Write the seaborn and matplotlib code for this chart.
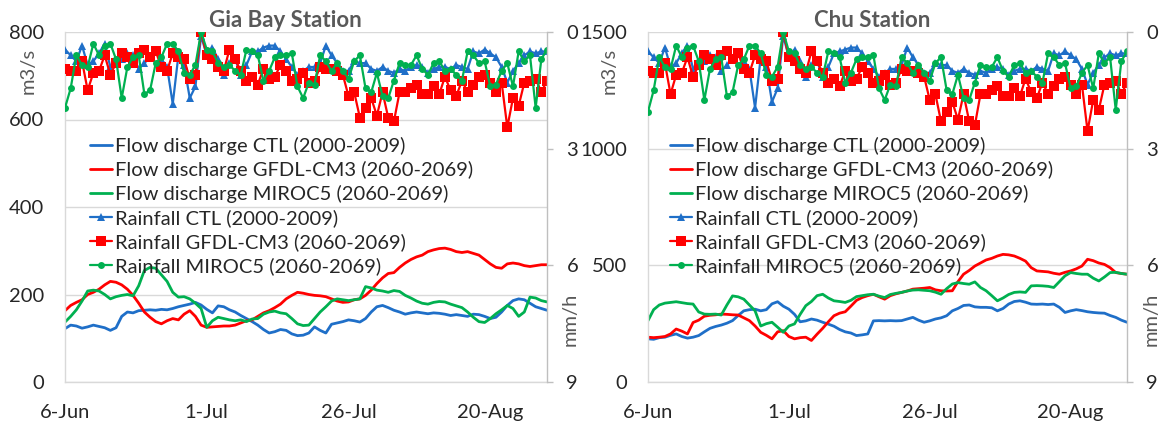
import numpy as np
import pandas as pd
import matplotlib
matplotlib.use("Agg")
import matplotlib.pyplot as plt
import seaborn as sns

# ---------------------------------------------------------------- data
start_date = "2000-06-06"
n_days = 86
tick_days = [0, 25, 50, 75]
tick_labels = ["6-Jun", "1-Jul", "26-Jul", "20-Aug"]

series_labels = [
    "Flow discharge CTL (2000-2009)",
    "Flow discharge GFDL-CM3 (2060-2069)",
    "Flow discharge MIROC5 (2060-2069)",
    "Rainfall CTL (2000-2009)",
    "Rainfall GFDL-CM3 (2060-2069)",
    "Rainfall MIROC5 (2060-2069)",
]

# Gia Bay station: discharge (m3/s)
gb_flow_ctl = [122, 130, 128, 123, 126, 130, 127, 124, 118, 124,
               150, 160, 158, 163, 164, 165, 164, 166, 165, 168,
               172, 175, 178, 182, 176, 166, 158, 174, 172, 165,
               160, 152, 145, 138, 130, 120, 112, 115, 120, 118,
               110, 106, 107, 112, 126, 118, 112, 132, 135, 138,
               142, 140, 137, 145, 160, 172, 175, 170, 164, 160,
               155, 158, 160, 158, 156, 158, 157, 155, 152, 154,
               152, 150, 155, 154, 150, 145, 148, 160, 175, 186,
               190, 188, 180, 172, 168, 164]
gb_flow_gfdl = [163, 175, 182, 188, 200, 205, 212, 222, 230, 228,
                222, 212, 198, 180, 160, 148, 138, 133, 140, 145,
                142, 155, 163, 150, 130, 125, 126, 127, 128, 128,
                130, 135, 140, 142, 150, 158, 163, 170, 178, 190,
                198, 205, 203, 200, 198, 197, 195, 190, 185, 182,
                183, 188, 190, 198, 210, 225, 238, 248, 250, 262,
                272, 280, 286, 290, 298, 302, 305, 306, 303, 298,
                296, 298, 294, 290, 280, 270, 262, 260, 270, 272,
                270, 266, 264, 266, 268, 268]
gb_flow_miroc = [137, 150, 165, 185, 208, 210, 208, 200, 190, 195,
                 198, 200, 197, 220, 255, 262, 260, 245, 230, 205,
                 194, 195, 190, 180, 168, 125, 140, 148, 145, 142,
                 140, 142, 138, 144, 145, 155, 160, 162, 158, 156,
                 145, 133, 129, 130, 145, 160, 172, 185, 190, 188,
                 186, 188, 190, 218, 215, 210, 208, 205, 209, 207,
                 198, 192, 185, 180, 178, 182, 184, 183, 178, 174,
                 170, 160, 148, 138, 136, 145, 156, 165, 175, 168,
                 150, 160, 194, 192, 186, 183]

# Gia Bay station: rainfall (mm/h)
gb_rain_ctl = [0.45, 0.6, 0.75, 0.35, 0.85, 0.75, 0.55, 0.3, 0.9, 0.8,
               0.7, 0.55, 0.6, 0.95, 0.8, 0.65, 0.5, 0.7, 0.9, 1.85,
               0.6, 0.85, 1.7, 1.4, 0.1, 0.6, 0.4, 0.7, 1.1, 0.8,
               0.7, 1.1, 0.85, 0.5, 0.5, 0.4, 0.35, 0.35, 0.5, 0.7,
               0.9, 1.1, 1.0, 0.9, 0.9, 0.8, 0.35, 0.6, 0.8, 1.0,
               1.0, 0.75, 0.8, 0.8, 0.95, 1.0, 0.9, 1.0, 1.05, 0.95,
               1.0, 0.9, 0.85, 0.9, 1.05, 0.95, 0.9, 0.9, 0.95, 0.85,
               0.9, 0.95, 0.5, 0.55, 0.45, 0.55, 0.65, 0.9, 1.3, 1.0,
               0.8, 0.6, 0.5, 0.55, 0.5, 0.5]
gb_rain_gfdl = [0.95, 1.0, 1.0, 0.75, 1.5, 1.05, 1.0, 0.6, 1.1, 0.8,
                0.55, 0.65, 0.8, 0.55, 0.45, 0.65, 0.5, 0.9, 1.0, 0.55,
                0.65, 0.7, 1.2, 1.1, 0.0, 0.6, 0.7, 0.9, 1.0, 0.45,
                0.7, 1.0, 1.25, 1.15, 1.35, 0.95, 1.2, 1.15, 0.85, 1.0,
                1.25, 1.2, 1.05, 1.3, 1.25, 0.9, 0.95, 0.95, 1.0, 1.1,
                1.65, 1.55, 2.2, 1.95, 1.7, 2.15, 1.55, 2.2, 2.3, 1.55,
                1.55, 1.45, 1.35, 1.6, 1.6, 1.4, 1.6, 1.15, 1.5, 1.65,
                1.25, 1.55, 1.35, 1.15, 1.1, 1.3, 1.55, 1.3, 2.45, 1.7,
                1.9, 1.3, 1.25, 1.2, 1.55, 1.25]
gb_rain_miroc = [1.95, 1.45, 0.6, 0.85, 0.9, 0.3, 0.6, 0.35, 0.3, 0.7,
                 1.7, 0.9, 0.65, 0.6, 1.6, 1.5, 0.8, 0.65, 0.3, 0.3,
                 0.5, 1.05, 1.1, 0.85, 0.0, 0.45, 0.5, 0.8, 0.9, 0.85,
                 1.0, 1.1, 0.45, 0.5, 0.6, 1.25, 1.0, 0.65, 0.6, 0.6,
                 0.55, 1.4, 1.7, 1.3, 1.35, 0.6, 0.75, 1.0, 0.8, 1.0,
                 1.2, 0.75, 0.6, 1.45, 1.55, 1.05, 1.65, 1.7, 1.25, 0.8,
                 0.85, 0.85, 0.6, 0.95, 1.1, 0.8, 0.75, 1.0, 0.95, 1.1,
                 1.25, 0.5, 0.6, 0.8, 0.75, 1.4, 1.35, 1.0, 0.8, 1.4,
                 0.5, 0.75, 0.6, 1.95, 0.7, 0.45]

# Chu station: discharge (m3/s)
chu_flow_ctl = [185, 183, 190, 192, 200, 206, 195, 188, 192, 199,
                215, 230, 238, 244, 252, 263, 285, 305, 310, 312,
                305, 310, 335, 344, 325, 312, 290, 258, 262, 270,
                265, 256, 248, 239, 225, 215, 210, 199, 202, 206,
                262, 263, 262, 263, 262, 263, 270, 277, 265, 256,
                262, 270, 275, 284, 305, 315, 328, 330, 322, 320,
                320, 318, 305, 315, 334, 345, 348, 342, 334, 333,
                334, 332, 334, 320, 298, 305, 310, 306, 301, 298,
                296, 295, 285, 277, 265, 256]
chu_flow_gfdl = [192, 190, 192, 195, 206, 227, 218, 206, 255, 265,
                 282, 286, 288, 291, 290, 288, 287, 275, 263, 240,
                 213, 200, 185, 215, 220, 195, 185, 190, 192, 178,
                 205, 230, 258, 284, 295, 301, 325, 350, 362, 370,
                 376, 365, 355, 370, 378, 384, 390, 398, 400, 402,
                 405, 395, 391, 390, 391, 430, 462, 478, 497, 510,
                 523, 530, 540, 547, 545, 540, 530, 518, 490, 476,
                 474, 472, 466, 462, 470, 476, 485, 497, 526, 520,
                 510, 504, 490, 469, 465, 462]
chu_flow_miroc = [263, 310, 330, 338, 341, 344, 340, 336, 334, 300,
                  291, 290, 291, 287, 330, 369, 365, 355, 330, 305,
                  240, 250, 256, 235, 213, 240, 249, 290, 327, 345,
                  370, 376, 360, 348, 345, 341, 350, 366, 370, 374,
                  376, 368, 362, 375, 380, 384, 390, 394, 395, 393,
                  391, 385, 376, 400, 420, 426, 422, 419, 429, 405,
                  391, 370, 348, 360, 375, 384, 386, 384, 412, 413,
                  412, 410, 405, 430, 455, 469, 465, 462, 462, 445,
                  433, 450, 469, 470, 465, 462]

# Chu station: rainfall (mm/h)
chu_rain_ctl = [0.5, 0.65, 0.8, 0.4, 0.9, 0.8, 0.55, 0.35, 0.95, 0.85,
                0.75, 0.6, 0.65, 1.0, 0.85, 0.7, 0.55, 0.75, 0.95, 1.95,
                0.65, 0.9, 1.8, 1.45, 0.1, 0.65, 0.45, 0.75, 1.15, 0.85,
                0.75, 1.15, 0.9, 0.55, 0.5, 0.45, 0.4, 0.4, 0.55, 0.75,
                0.95, 1.15, 1.05, 0.95, 0.95, 0.85, 0.4, 0.65, 0.85, 1.05,
                1.05, 0.8, 0.85, 0.85, 1.0, 1.05, 0.95, 1.05, 1.1, 1.0,
                1.05, 0.95, 0.9, 0.95, 1.1, 1.0, 0.95, 0.95, 1.0, 0.9,
                0.95, 1.0, 0.55, 0.6, 0.5, 0.6, 0.7, 0.95, 1.35, 1.05,
                0.85, 0.65, 0.55, 0.6, 0.55, 0.55]
chu_rain_gfdl = [1.0, 1.05, 1.05, 0.8, 1.6, 1.1, 1.05, 0.65, 1.15, 0.85,
                 0.6, 0.7, 0.85, 0.6, 0.5, 0.7, 0.55, 0.95, 1.05, 0.6,
                 0.7, 0.75, 1.25, 1.2, 0.0, 0.65, 0.75, 0.95, 1.05, 0.5,
                 0.75, 1.05, 1.3, 1.2, 1.4, 1.0, 1.25, 1.2, 0.9, 1.05,
                 1.3, 1.25, 1.1, 1.35, 1.3, 0.95, 1.0, 1.0, 1.05, 1.15,
                 1.75, 1.6, 2.3, 2.05, 1.8, 2.25, 1.6, 2.3, 2.4, 1.6,
                 1.6, 1.5, 1.4, 1.65, 1.65, 1.45, 1.65, 1.2, 1.55, 1.7,
                 1.3, 1.6, 1.4, 1.2, 1.15, 1.35, 1.6, 1.35, 2.55, 1.75,
                 2.0, 1.35, 1.3, 1.25, 1.6, 1.3]
chu_rain_miroc = [2.05, 1.5, 0.65, 0.9, 0.95, 0.35, 0.65, 0.4, 0.35, 0.75,
                  1.75, 0.95, 0.7, 0.65, 1.65, 1.55, 0.85, 0.7, 0.35, 0.35,
                  0.55, 1.1, 1.15, 0.9, 0.0, 0.5, 0.55, 0.85, 0.95, 0.9,
                  1.05, 1.15, 0.5, 0.55, 0.65, 1.3, 1.05, 0.7, 0.65, 0.65,
                  0.6, 1.45, 1.75, 1.35, 1.4, 0.65, 0.8, 1.05, 0.85, 1.05,
                  1.25, 0.8, 0.65, 1.5, 1.6, 1.1, 1.7, 1.75, 1.3, 0.85,
                  0.9, 0.9, 0.65, 1.0, 1.15, 0.85, 0.8, 1.05, 1.0, 1.15,
                  1.3, 0.55, 0.65, 0.85, 0.8, 1.45, 1.4, 1.05, 0.85, 1.45,
                  0.55, 0.8, 0.65, 2.0, 0.75, 0.5]

# ---------------------------------------------------------------- style
sns.set_style("white")
plt.rcParams["font.family"] = ["Lato", "DejaVu Sans"]

BLUE, RED, GREEN = "#1F6FC8", "#FF0000", "#00B050"
GRID = "#D9D9D9"
TEXT = "#595959"
TICK = "#262626"
FS = 14.5

days = np.arange(n_days)
dates = pd.date_range(start_date, periods=n_days, freq="D")

fig = plt.figure(figsize=(11.65, 4.26), dpi=100)

panels = [
    dict(title="Gia Bay Station", tx=0.2446,
         rect=[65 / 1165, 44 / 426, 482 / 1165, 350 / 426],
         flows=[gb_flow_ctl, gb_flow_gfdl, gb_flow_miroc],
         rains=[gb_rain_ctl, gb_rain_gfdl, gb_rain_miroc],
         ymax=800, ystep=200, leg_x=0.052, ylab_x=-0.058, rlab_x=1.031),
    dict(title="Chu Station", tx=0.7485,
         rect=[648 / 1165, 44 / 426, 479 / 1165, 350 / 426],
         flows=[chu_flow_ctl, chu_flow_gfdl, chu_flow_miroc],
         rains=[chu_rain_ctl, chu_rain_gfdl, chu_rain_miroc],
         ymax=1500, ystep=500, leg_x=0.045, ylab_x=-0.063, rlab_x=1.033),
]

colors = [BLUE, RED, GREEN]
markers = ["^", "s", "o"]
msizes = [5.5, 6.5, 5.0]

for p in panels:
    ax = fig.add_axes(p["rect"])
    ax2 = ax.twinx()
    handles = []

    for vals, c, lab in zip(p["flows"], colors, series_labels[:3]):
        df = pd.DataFrame({"day": days, "value": vals})
        sns.lineplot(data=df, x="day", y="value", ax=ax, color=c,
                     linewidth=2.0, label=lab, legend=False)
        handles.append(ax.lines[-1])

    for vals, c, m, ms, lab in zip(p["rains"], colors, markers, msizes,
                                   series_labels[3:]):
        df = pd.DataFrame({"day": days, "value": vals})
        sns.lineplot(data=df, x="day", y="value", ax=ax2, color=c,
                     linewidth=1.6, marker=m, markersize=ms,
                     markeredgewidth=0, label=lab, legend=False)
        handles.append(ax2.lines[-1])

    # primary (discharge) axis
    ax.set_xlim(days[0], days[-1])
    ax.set_ylim(0, p["ymax"])
    ax.set_yticks(np.arange(0, p["ymax"] + 1, p["ystep"]))
    ax.set_xticks(tick_days)
    ax.set_xticklabels([dates[d].strftime("%-d-%b") for d in tick_days])
    ax.grid(axis="y", color=GRID, linewidth=1.0)
    ax.grid(axis="x", visible=False)
    ax.tick_params(axis="y", length=0, pad=15, labelsize=FS, labelcolor=TICK)
    ax.tick_params(axis="x", length=0, pad=16, labelsize=FS, labelcolor=TICK)
    ax.set_xlabel("")
    ax.set_ylabel("m3/s", fontsize=FS, color=TEXT)
    ax.yaxis.set_label_coords(p["ylab_x"], 0.89)
    for side in ["left", "bottom"]:
        ax.spines[side].set_color(GRID)
        ax.spines[side].set_linewidth(1.0)
    ax.spines["top"].set_visible(False)
    ax.spines["right"].set_visible(False)

    # secondary (rainfall) axis, inverted
    ax2.set_ylim(9, 0)
    ax2.set_yticks([0, 3, 6, 9])
    ax2.tick_params(axis="y", direction="out", length=4, width=1.0,
                    color="#BFBFBF", pad=10, labelsize=FS, labelcolor=TICK)
    ax2.set_ylabel("mm/h", fontsize=FS, color=TEXT, rotation=90)
    ax2.yaxis.set_label_coords(p["rlab_x"], 0.18)
    ax2.grid(False)
    for side in ["left", "top", "bottom"]:
        ax2.spines[side].set_visible(False)
    ax2.spines["right"].set_color("#BFBFBF")
    ax2.spines["right"].set_linewidth(1.0)

    ax2.legend(handles=handles, labels=series_labels, loc="upper left",
               bbox_to_anchor=(p["leg_x"], 0.70), frameon=False,
               fontsize=FS, handlelength=1.1, handletextpad=0.15,
               labelspacing=0.3, borderpad=0, borderaxespad=0,
               labelcolor=TICK)

    fig.text(p["tx"], 0.951, p["title"], ha="center", va="center",
             fontsize=16, fontweight="bold", color=TEXT)

fig.savefig("out.png", dpi=100)
